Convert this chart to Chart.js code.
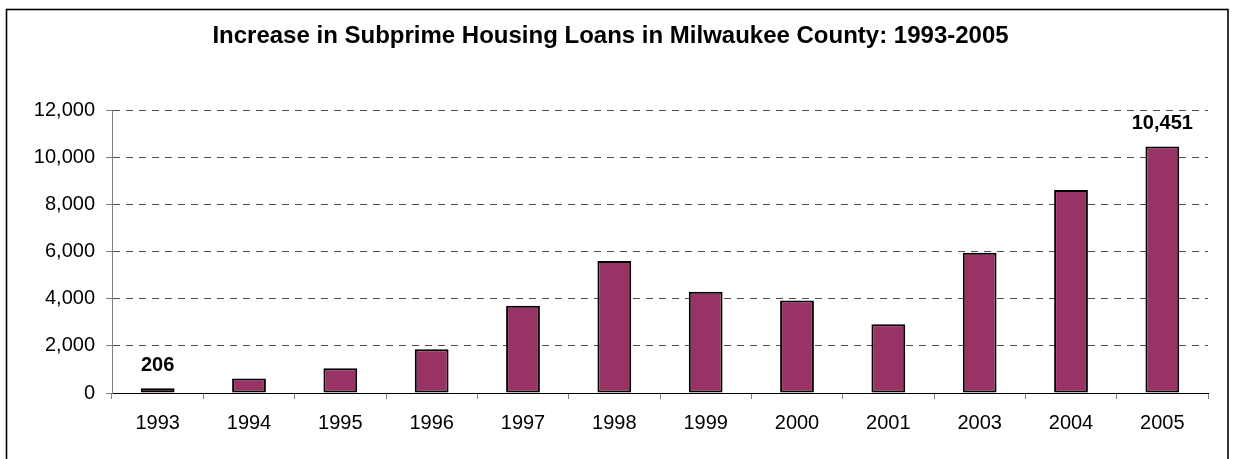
<!DOCTYPE html>
<html>
<head>
<meta charset="utf-8">
<script src="https://cdn.jsdelivr.net/npm/chart.js@4.4.1/dist/chart.umd.min.js"></script>
<style>
  html, body { margin: 0; padding: 0; background: #ffffff; }
  #wrap { width: 1233px; height: 459px; position: relative; }
</style>
</head>
<body>
<div id="wrap"><canvas id="c" width="1233" height="459"></canvas></div>
<script>
const titleText = 'Increase in Subprime Housing Loans in Milwaukee County: 1993-2005';
const years = ['1993', '1994', '1995', '1996', '1997', '1998', '1999', '2000', '2001', '2003', '2004', '2005'];
const loans = [206, 620, 1050, 1860, 3700, 5600, 4290, 3920, 2920, 5950, 8610, 10451];
const labelledYears = ['1993', '2005'];
const yMin = 0;
const yMax = 12000;
const yStep = 2000;

const FONT = "'Liberation Sans', Arial, sans-serif";
const TICK_SIZE = 20;
const TITLE_SIZE = 24;
const TITLE_PAD_TOP = 36 - 0.6 * TITLE_SIZE;

const frame = {
  id: 'frame',
  beforeDraw(chart) {
    const ctx = chart.ctx;
    ctx.save();
    ctx.fillStyle = '#ffffff';
    ctx.fillRect(0, 0, chart.width, chart.height);
    ctx.strokeStyle = '#000000';
    ctx.lineWidth = 1.6;
    ctx.strokeRect(6.5, 9.5, 1221.5, 470);
    ctx.restore();
  }
};

const valueLabels = {
  id: 'valueLabels',
  afterDatasetsDraw(chart) {
    const ctx = chart.ctx;
    const meta = chart.getDatasetMeta(0);
    ctx.save();
    ctx.font = 'bold ' + TICK_SIZE + 'px ' + FONT;
    ctx.fillStyle = '#000000';
    ctx.textAlign = 'center';
    ctx.textBaseline = 'bottom';
    years.forEach((yr, i) => {
      if (!labelledYears.includes(yr)) return;
      const el = meta.data[i];
      ctx.fillText(loans[i].toLocaleString('en-US'), el.x, el.y - 13);
    });
    ctx.restore();
  }
};

new Chart(document.getElementById('c'), {
  type: 'bar',
  data: {
    labels: years,
    datasets: [{
      data: loans,
      backgroundColor: '#993366',
      borderColor: '#000000',
      borderWidth: 2,
      borderSkipped: false,
      barPercentage: 0.37,
      categoryPercentage: 1.0
    }]
  },
  options: {
    responsive: false,
    animation: false,
    devicePixelRatio: 1,
    layout: { padding: { left: 13, right: 25, top: 0, bottom: 0 } },
    plugins: {
      legend: { display: false },
      tooltip: { enabled: false },
      title: {
        display: true,
        text: titleText,
        color: '#000000',
        font: { family: FONT, size: TITLE_SIZE, weight: 'bold', lineHeight: 1.2 },
        padding: { top: TITLE_PAD_TOP, bottom: 110 - TITLE_PAD_TOP - 1.2 * TITLE_SIZE }
      }
    },
    scales: {
      x: {
        offset: true,
        grid: {
          offset: true,
          drawOnChartArea: false,
          drawTicks: true,
          tickLength: 6,
          tickColor: '#808080',
          color: '#808080'
        },
        border: { display: true, color: '#000000', width: 1 },
        ticks: {
          color: '#000000',
          font: { family: FONT, size: TICK_SIZE },
          padding: 12,
          maxRotation: 0,
          autoSkip: false
        },
        afterFit(scale) { scale.height = 66; }
      },
      y: {
        min: yMin,
        max: yMax,
        grid: {
          drawTicks: true,
          tickLength: 6,
          tickColor: '#808080',
          lineWidth: 1,
          color: (c) => (c.tick && c.tick.value === 0) ? 'rgba(0,0,0,0)' : '#4d4d4d'
        },
        border: { display: true, color: '#808080', width: 1, dash: [7, 6] },
        ticks: {
          stepSize: yStep,
          color: '#000000',
          font: { family: FONT, size: TICK_SIZE },
          padding: 11,
          callback: (v) => v.toLocaleString('en-US')
        },
        afterFit(scale) { scale.width = 99; }
      }
    }
  },
  plugins: [frame, valueLabels]
});
</script>
</body>
</html>
